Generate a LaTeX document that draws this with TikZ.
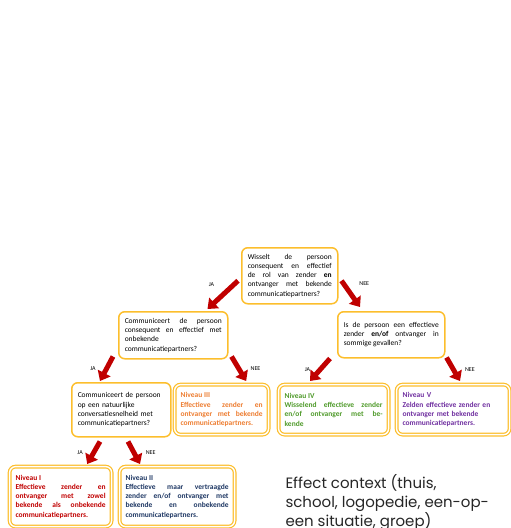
\documentclass[tikz,border=0pt]{standalone}
\usepackage{fontspec}
\setmainfont{Carlito}
\newfontfamily\gothic{Poppins}
\usetikzlibrary{arrows.meta}
\usetikzlibrary{calc}
\usetikzlibrary{positioning}
\definecolor{boxgold}{HTML}{FCBE2C}
\definecolor{arrowred}{HTML}{C00000}
\definecolor{lvlred}{HTML}{C00000}
\definecolor{lvlblue}{HTML}{1F3864}
\definecolor{lvlorange}{HTML}{ED7D31}
\definecolor{lvlgreen}{HTML}{4F9A2A}
\definecolor{lvlpurple}{HTML}{7030A0}
\newcommand\boxfont{\fontsize{7.5}{9.2}\selectfont\hyphenpenalty=10000\emergencystretch=20pt}
\begin{document}
\begin{tikzpicture}[x=1pt,y=-1pt,
  question/.style={draw=boxgold, line width=1.5pt, rounded corners=6pt,
    anchor=north west, inner xsep=6pt, font=\boxfont, align=justify},
  level/.style={draw=boxgold, line width=1.2pt, double=white, double distance=1.4pt,
    rounded corners=6pt, anchor=north west, inner xsep=6pt,
    font=\boxfont\bfseries, align=justify},
  yesno/.style={-{Triangle[length=9pt,width=14pt]}, line width=5pt, arrowred},
  answer/.style={text=black, font=\fontsize{6}{6}\selectfont}]
  \useasboundingbox (0,0) rectangle (511,528);
  % questions
  \node[question, text width=84pt, minimum height=56pt] (q1) at (241,247)
    {Wisselt de persoon\linebreak consequent en effectief\linebreak
     de rol van zender \textbf{en}\linebreak ontvanger met bekende\linebreak
     communicatiepartners?};
  \node[question, text width=97pt, minimum height=47pt] (q2) at (118,311)
    {Communiceert de persoon\linebreak consequent en effectief met\linebreak
     onbekende\\ communicatiepartners?};
  \node[question, text width=95pt, minimum height=46pt] (q3) at (337,311)
    {Is de persoon een effectieve\linebreak zender \textbf{en/of} ontvanger in\linebreak
     sommige gevallen?};
  \node[question, text width=87pt, minimum height=54pt, align=left] (q4) at (71,382)
    {Communiceert de persoon\\ op een natuurlijke\\ conversatiesnelheid met\\
     communicatiepartners?};
  % levels
  \node[level, text width=82pt, minimum height=50pt, text=lvlorange] (n3) at (174,384)
    {Niveau III\\ Effectieve zender en\linebreak ontvanger met bekende\linebreak
     communicatiepartners.};
  \node[level, text width=98pt, minimum height=50pt, text=lvlgreen] (n4) at (278,384)
    {Niveau IV\\ Wisselend effectieve zender\linebreak en/of ontvanger met be-\linebreak kende};
  \node[level, text width=101pt, minimum height=50pt, text=lvlpurple, align=left] (n5) at (396,384)
    {Niveau V\\ Zelden effectieve zender en\\ ontvanger met bekende\\ communicatiepartners.};
  \node[level, text width=90pt, minimum height=60pt, text=lvlred] (n1) at (9,466)
    {Niveau I\\ Effectieve zender en\linebreak ontvanger met zowel\linebreak
     bekende als onbekende\linebreak communicatiepartners.};
  \node[level, text width=103pt, minimum height=60pt, text=lvlblue] (n2) at (119,466)
    {Niveau II\\ Effectieve maar vertraagde\linebreak zender en/of ontvanger met\linebreak
     bekende en onbekende\linebreak communicatiepartners.};
  % answers
  \draw[yesno] ($(q1.west)+(-3,5)$) -- ($(q2.north east)+(-21,-2)$)
    node[answer, midway, above left=4pt] {JA};
  \draw[yesno] ($(q1.east)+(3,5)$) -- ($(q3.north west)+(23,-4)$)
    node[answer, midway, above right=4pt] {NEE};
  \draw[yesno] ($(q2.south west)+(-5,-3)$) -- ($(q4.north west)+(29,-1)$)
    node[answer, midway, left=5pt] {JA};
  \draw[yesno] ($(q2.south east)+(3,-3)$) -- ($(n3.north east)+(-23,-3)$)
    node[answer, midway, right=6pt] {NEE};
  \draw[yesno] ($(q3.south west)+(-7,0)$) -- ($(n4.north west)+(32,-3)$)
    node[answer, midway, left=4pt] {JA};
  \draw[yesno] ($(q3.south east)+(1,-1)$) -- ($(n5.north west)+(64,-3)$)
    node[answer, midway, right=6pt] {NEE};
  \draw[yesno] ($(q4.south west)+(29,4)$) -- ($(n1.north east)+(-25,-2)$)
    node[answer, midway, left=5pt] {JA};
  \draw[yesno] ($(q4.south west)+(57,4)$) -- ($(n2.north west)+(21,-2)$)
    node[answer, midway, right=6pt] {NEE};
  % context
  \node[anchor=north west, align=left, text=black!85,
    font=\gothic\fontsize{15}{19}\selectfont] (ctx) at (282,471)
    {Effect context (thuis,\\ school, logopedie, een-op-\\ een situatie, groep)};
\end{tikzpicture}
\end{document}
